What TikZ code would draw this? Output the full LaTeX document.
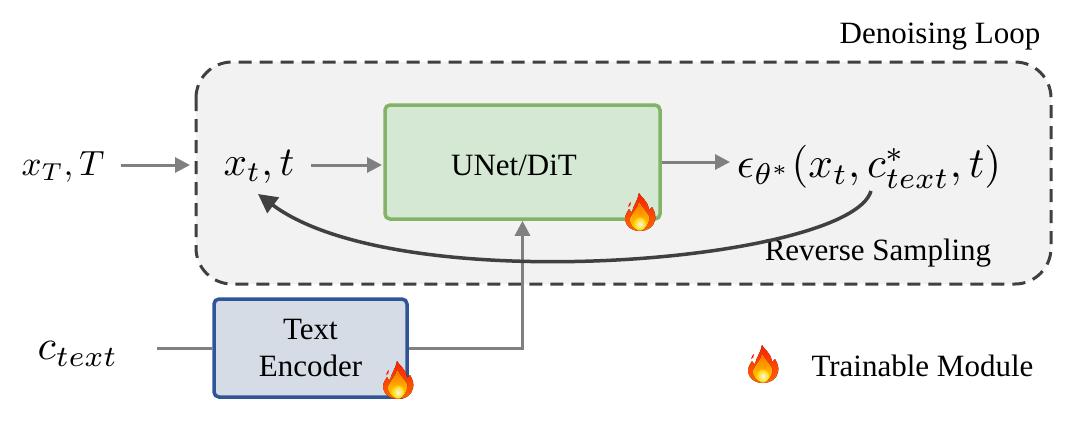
\documentclass[tikz,border=0pt]{standalone}
\usepackage{fontspec}
\setmainfont{Liberation Serif}
\usepackage{tikz}
\usetikzlibrary{arrows.meta}
\tikzstyle{loopbox}=[
        draw=black!75,
        fill=black!5,
        dash pattern=on 13pt off 8pt,
        line width=3pt,
        rounded corners=36pt
]
\tikzstyle{block}=[
        rectangle,
        rounded corners=5pt,
        line width=3.5pt,
        font=\fontsize{31}{37}\selectfont,
        align=center
]
\definecolor{unetgreen}{HTML}{82B366}
\definecolor{unetfill}{HTML}{D5E8D4}
\definecolor{encblue}{HTML}{2F5597}
\definecolor{encfill}{HTML}{D6DCE5}
\tikzstyle{unet}=[
        block,
        draw=unetgreen,
        fill=unetfill,
        minimum width=275pt,
        minimum height=114pt
]
\tikzstyle{encoder}=[
        block,
        draw=encblue,
        fill=encfill,
        minimum width=193pt,
        minimum height=98pt
]
\tikzstyle{caption}=[
        font=\fontsize{31}{36}\selectfont
]
\tikzstyle{mathlabel}=[
        inner sep=0pt
]
\tikzstyle{flow}=[
        draw=black!50,
        line width=3pt,
        -{Triangle[length=15pt,width=15pt]}
]
\tikzstyle{feedback}=[
        draw=black!75,
        line width=3.5pt,
        -{Triangle[length=19pt,width=19pt]}
]
\newcommand{\bigmath}[2][3.9]{\scalebox{#1}{$#2$}}
\tikzset{
    flame/.pic={
        \fill[top color=red!75!orange,bottom color=orange!80!red,draw=none]
            (-1,-19) .. controls (1,-14) and (8,-12) .. (9,-2)
            .. controls (10,-3) and (11,-4) .. (12,-5)
            .. controls (15,0) and (16,4) .. (15,8)
            .. controls (14,15) and (7,19) .. (0,19)
            .. controls (-8,19) and (-15,14) .. (-15,7)
            .. controls (-15,3) and (-13,0) .. (-11,-3)
            .. controls (-10,-1) and (-9,0) .. (-8,0)
            .. controls (-7,-6) and (-2,-12) .. (-1,-19);
        \fill[red!80!orange] (-12,-5) .. controls (-12,-8) and (-10,-9) .. (-9,-10)
            .. controls (-9,-7) and (-10,-5) .. (-12,-5);
        \fill[top color=orange!85!red,bottom color=yellow!70!orange,draw=none]
            (-1,-11) .. controls (1,-6) and (6,-2) .. (9,4)
            .. controls (10,12) and (5,18) .. (0,18)
            .. controls (-6,18) and (-11,12) .. (-10,6)
            .. controls (-8,1) and (-2,-4) .. (-1,-11);
        \shade[inner color=white,outer color=yellow!70!orange,opacity=0.9]
            (0,12) ellipse [x radius=6,y radius=6.5];
    }
}

\begin{document}
\begin{tikzpicture}[x=1pt,y=-1pt]
    \useasboundingbox (0,0) rectangle (1080,440);

    \draw[loopbox] (196,62) rectangle (1051,284);

    \node[caption] (looplabel) at (940,37) {Denoising Loop};
    \node[unet] (unet) at (522.5,162) {};
    \node[caption] (unetlabel) at (514,165) {UNet/DiT};
    \node[encoder] (encoder) at (310.5,348) {Text\\Encoder};
    \node[caption] (reverselabel) at (878,253) {Reverse Sampling};
    \node[caption,anchor=west] (trainlabel) at (808,366) {Trainable Module};

    \node[mathlabel] (xT) at (63,167) {\bigmath[3.5]{x_T,T}};
    \node[mathlabel] (xt) at (259,167) {\bigmath[4.1]{x_t,t}};
    \node[mathlabel] (eps) at (869,167) {\bigmath[4.3]{\epsilon_{\theta^*}(x_t,c^*_{text},t)}};
    \node[mathlabel] (ctext) at (78,354) {\bigmath[4.2]{c_{text}}};

    \coordinate (curvestart) at (871,191);
    \coordinate (curveend) at (258,194);
    \coordinate (ctextend) at (157,348);

    \draw[flow] (121,165) -- (190,165);
    \draw[flow] (311,165) -- (382,165);
    \draw[flow] (unet.east) -- (730,162);
    \draw[draw=black!50,line width=3pt] (ctextend) -- (encoder.west);
    \draw[flow] (encoder.east) -| (unet.south);
    \draw[feedback] (curvestart) .. controls (850,262) and (400,300) .. (curveend);

    \pic at (640,212) {flame};
    \pic at (398,380) {flame};
    \pic at (763,364) {flame};
\end{tikzpicture}
\end{document}
